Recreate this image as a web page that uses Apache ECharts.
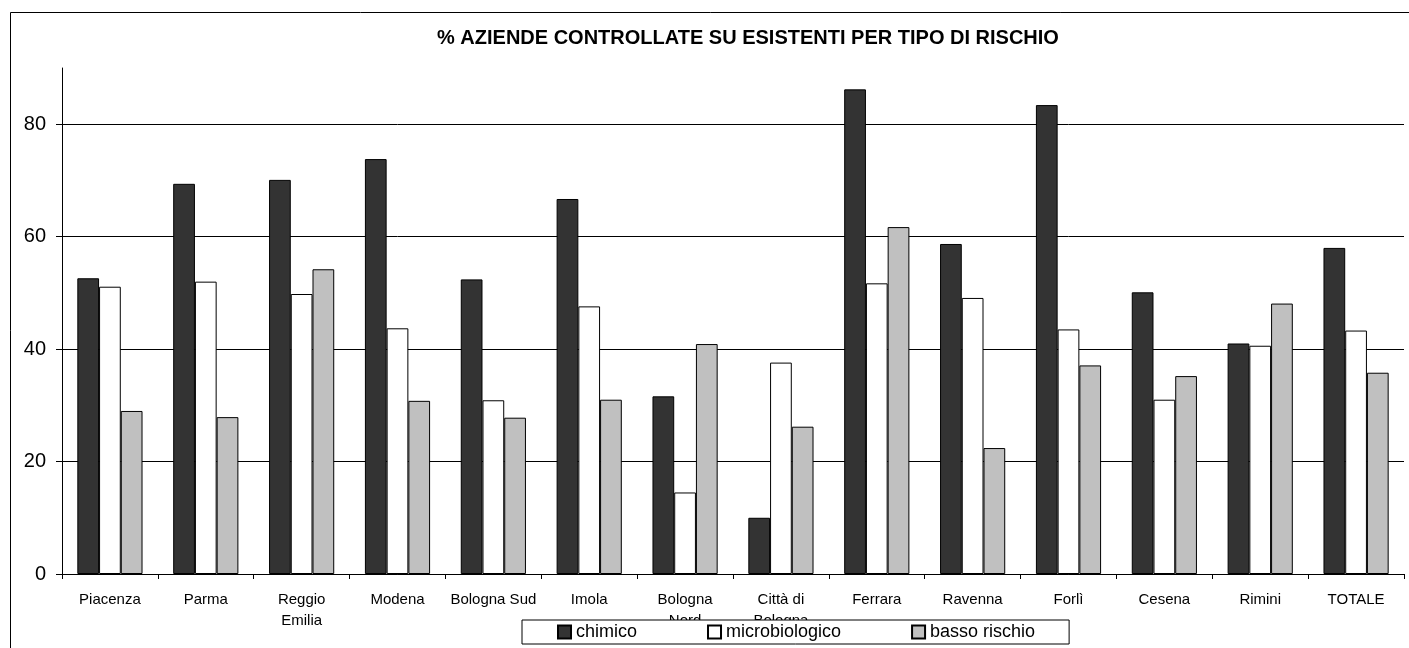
<!DOCTYPE html>
<html>
<head>
	<meta charset="utf-8" />
	<title>% aziende controllate su esistenti per tipo di rischio</title>
	<script src="https://cdn.jsdelivr.net/npm/echarts@6/dist/echarts.min.js"></script>
	<style>
		html, body { margin: 0; padding: 0; background: #fff; }
	</style>
</head>
<body>
	<!-- chart container -->
	<div id="main" style="width: 1409px;height: 648px;"></div>
	<script type="text/javascript">

		// data
		var categories = ['Piacenza', 'Parma', 'Reggio\nEmilia', 'Modena', 'Bologna Sud', 'Imola',
			'Bologna\nNord', 'Città di\nBologna', 'Ferrara', 'Ravenna', 'Forlì', 'Cesena', 'Rimini', 'TOTALE'];
		var chimico = [52.6, 69.4, 70.1, 73.8, 52.4, 66.7, 31.6, 10.0, 86.2, 58.7, 83.4, 50.1, 41.0, 58.0];
		var microbiologico = [51.1, 52.0, 49.8, 43.7, 30.9, 47.6, 14.5, 37.6, 51.7, 49.1, 43.5, 31.0, 40.6, 43.3];
		var bassoRischio = [29.0, 27.9, 54.2, 30.8, 27.8, 31.0, 40.9, 26.2, 61.7, 22.4, 37.1, 35.2, 48.1, 35.8];
		var yTicks = [0, 20, 40, 60, 80];

		var font = 'Liberation Sans, Arial, sans-serif';

		var myChart = echarts.init(document.getElementById('main'));

		function barSeries(name, data, color) {
			return {
				name: name,
				type: 'bar',
				data: data,
				barGap: '0%',
				barCategoryGap: '32%',
				itemStyle: {
					color: color,
					borderColor: '#000',
					borderWidth: 1
				}
			};
		}

		var option = {
			animation: false,
			backgroundColor: '#fff',
			textStyle: { fontFamily: font },
			title: {
				text: '% AZIENDE CONTROLLATE SU ESISTENTI PER TIPO DI RISCHIO',
				left: 432,
				top: 23,
				textStyle: { fontFamily: font, fontSize: 20, fontWeight: 'bold', color: '#000' }
			},
			graphic: [{
				type: 'rect',
				shape: { x: 10.5, y: 12.5, width: 1500, height: 1000 },
				style: { fill: null, stroke: '#000', lineWidth: 1 },
				z: -1
			}],
			legend: {
				left: 522,
				top: 620,
				padding: [3, 34, 3, 35],
				itemGap: 70,
				itemWidth: 13,
				itemHeight: 13,
				backgroundColor: '#fff',
				borderColor: '#000',
				borderWidth: 1,
				borderRadius: 0,
				icon: 'rect',
				textStyle: { fontFamily: font, fontSize: 18, color: '#000' },
				data: ['chimico', 'microbiologico', 'basso rischio']
			},
			grid: {
				left: 62,
				right: 5,
				top: 68,
				bottom: 74,
				containLabel: false
			},
			xAxis: {
				type: 'category',
				data: categories,
				axisLine: { lineStyle: { color: '#000', width: 1 } },
				axisTick: { show: true, length: 5, alignWithLabel: false, lineStyle: { color: '#000' } },
				axisLabel: {
					interval: 0,
					margin: 15,
					fontSize: 15,
					lineHeight: 21,
					color: '#000',
					fontFamily: font
				},
				splitLine: { show: false }
			},
			yAxis: {
				type: 'value',
				min: 0,
				max: 90,
				interval: 20,
				axisLine: { show: true, lineStyle: { color: '#000', width: 1 } },
				axisTick: { show: true, length: 6, customValues: yTicks, lineStyle: { color: '#000' } },
				axisLabel: {
					customValues: yTicks,
					margin: 16,
					fontSize: 20,
					color: '#000',
					fontFamily: font
				},
				splitLine: { show: true, lineStyle: { color: '#000', width: 1 } }
			},
			series: [
				barSeries('chimico', chimico, '#333333'),
				barSeries('microbiologico', microbiologico, '#ffffff'),
				barSeries('basso rischio', bassoRischio, '#c0c0c0')
			]
		};

		myChart.setOption(option);

	</script>
</body>
</html>
